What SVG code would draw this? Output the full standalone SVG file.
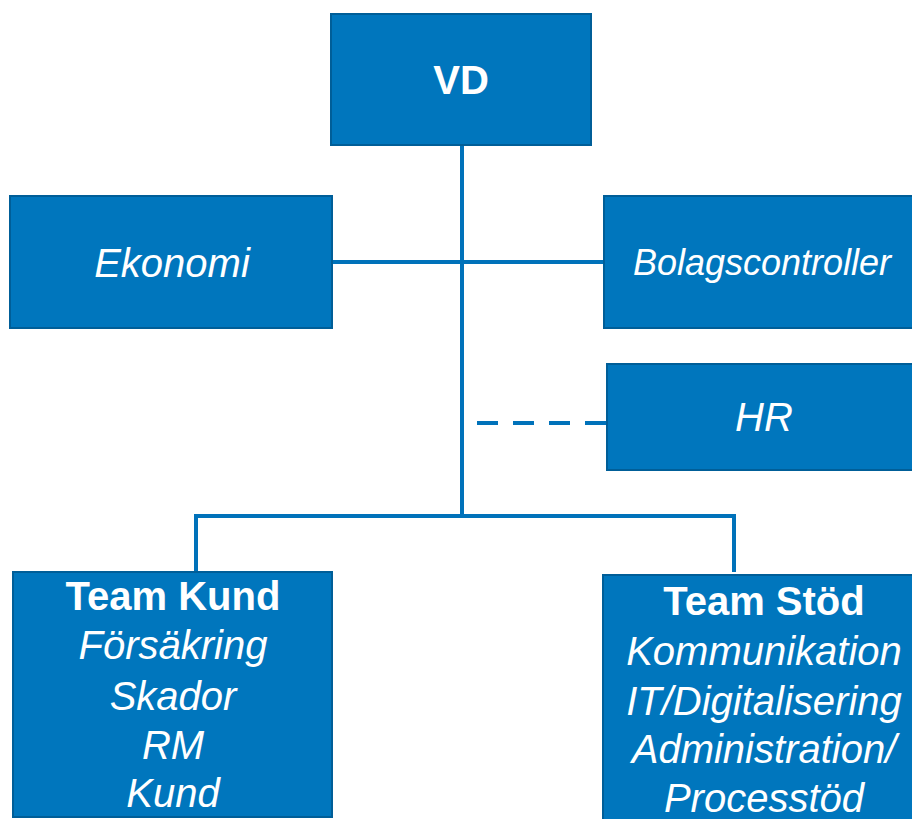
<svg xmlns="http://www.w3.org/2000/svg" width="912" height="819" viewBox="0 0 912 819">
<style>
.box{fill:#0076BD;stroke:#005E98;stroke-width:2}
.t{fill:#ffffff;font-family:"Liberation Sans",Arial,sans-serif;font-size:40px;text-anchor:middle}
.b{font-weight:bold}
.i{font-style:italic}
.ln{stroke:#0072BA;stroke-width:4;fill:none}
</style>
<rect width="912" height="819" fill="#ffffff"/>
<g id="connectors">
<line class="ln" x1="462" y1="145" x2="462" y2="518"/>
<line class="ln" x1="332" y1="262" x2="604" y2="262"/>
<line class="ln" x1="477" y1="423" x2="607" y2="423" stroke-dasharray="21 15"/>
<polyline class="ln" points="196,572 196,516 734,516 734,572"/>
</g>
<g id="vd">
<rect class="box" x="331" y="14" width="260" height="131"/>
<text class="t b" x="461" y="94">VD</text>
</g>
<g id="ekonomi">
<rect class="box" x="10" y="196" width="322" height="132"/>
<text class="t i" x="172" y="277">Ekonomi</text>
</g>
<g id="bolagscontroller">
<rect class="box" x="604" y="196" width="320" height="132"/>
<text class="t i" x="762" y="275" style="font-size:36px">Bolagscontroller</text>
</g>
<g id="hr">
<rect class="box" x="607" y="364" width="320" height="106"/>
<text class="t i" x="764" y="431">HR</text>
</g>
<g id="team-kund">
<rect class="box" x="13" y="572" width="319" height="245"/>
<text class="t b" x="173" y="610">Team Kund</text>
<text class="t i" x="173" y="659">Försäkring</text>
<text class="t i" x="173" y="710">Skador</text>
<text class="t i" x="173" y="759">RM</text>
<text class="t i" x="173" y="807">Kund</text>
</g>
<g id="team-stod">
<rect class="box" x="603" y="575" width="322" height="260"/>
<text class="t b" x="764" y="615">Team Stöd</text>
<text class="t i" x="764" y="665">Kommunikation</text>
<text class="t i" x="764" y="715">IT/Digitalisering</text>
<text class="t i" x="764" y="763">Administration/</text>
<text class="t i" x="764" y="812">Processtöd</text>
</g>
</svg>
